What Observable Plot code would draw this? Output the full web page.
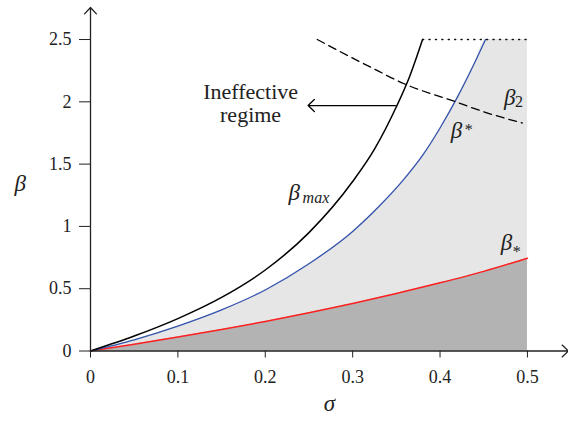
<!DOCTYPE html>
<html><head><meta charset="utf-8">
<script src="https://cdn.jsdelivr.net/npm/d3@7"></script>
<script src="https://cdn.jsdelivr.net/npm/@observablehq/plot@0.6"></script>
<style>
body{margin:0;background:#fff}
svg, svg text{font-family:"Liberation Serif","Times New Roman",Times,serif !important}
</style>
</head><body><div id="chart"></div>
<script>
// ---- data ----
const xTicks = [0, 0.1, 0.2, 0.3, 0.4, 0.5];
const yTicks = [0, 0.5, 1, 1.5, 2, 2.5];
const xAxisEnd = 0.547, yAxisEnd = 2.757;
const sigmaMax = [0, 0.05, 0.1, 0.15, 0.2, 0.25, 0.3, 0.325, 0.35, 0.365, 0.38];
const betaMax  = [0, 0.12, 0.26, 0.43, 0.65, 0.95, 1.36, 1.62, 1.96, 2.2, 2.5];
const sigmaStar = [0, 0.05, 0.1, 0.15, 0.2, 0.25, 0.3, 0.33, 0.36, 0.38, 0.4, 0.42, 0.44, 0.452];
const betaStar  = [0, 0.09, 0.2, 0.33, 0.49, 0.70, 0.96, 1.16, 1.39, 1.57, 1.79, 2.04, 2.32, 2.5];
const sigmaLow = [0, 0.05, 0.1, 0.15, 0.2, 0.25, 0.3, 0.35, 0.4, 0.45, 0.5];
const betaLow  = [0, 0.055, 0.112, 0.172, 0.237, 0.307, 0.382, 0.462, 0.547, 0.639, 0.745];
const sigma2 = [0.2595, 0.2864, 0.32, 0.359, 0.418, 0.45, 0.494];
const beta2  = [2.5, 2.4, 2.28, 2.145, 2.0, 1.92, 1.83];
const sigmaCap = [0.38, 0.5];
const betaCap  = [2.5, 2.5];
const regimeText = "Ineffective\nregime";
const regimePos = {s: 0.1832, b: 1.836};
const regimeArrow = {s1: 0.349, s2: 0.249, b: 1.97};
const labelMax = {s: 0.2267, b: 1.208, sub: "max"};
const labelStarUp = {s: 0.4122, b: 1.713, sup: "*"};
const label2 = {s: 0.4733, b: 1.978, sub: "2"};
const labelStarLow = {s: 0.4695, b: 0.814, sub: "*"};

const toPts = (xs, ys) => xs.map((s, i) => ({s, b: ys[i]}));
const ptsMax = toPts(sigmaMax, betaMax);
const ptsStar = toPts(sigmaStar, betaStar);
const ptsLow = toPts(sigmaLow, betaLow);
const pts2 = toPts(sigma2, beta2);
const ptsCap = toPts(sigmaCap, betaCap);
const ptsUpper = ptsStar.concat([{s: xTicks[xTicks.length - 1], b: yTicks[yTicks.length - 1]}]);

const greek = (lab, subText, subDx, subDy) => [
  Plot.text([lab], {x: "s", y: "b", text: () => "β", textAnchor: "start", lineAnchor: "bottom", fontStyle: "italic", fontSize: 23, fill: "#222"}),
  Plot.text([lab], {x: "s", y: "b", text: () => subText, textAnchor: "start", lineAnchor: "bottom", fontStyle: subText === "max" ? "italic" : "normal", fontSize: 16, dx: subDx, dy: subDy, fill: "#222"})
];

const chart = Plot.plot({
  width: 568, height: 424,
  marginLeft: 90, marginRight: 0, marginTop: 7, marginBottom: 73.5,
  style: {fontFamily: "'Liberation Serif', 'Times New Roman', serif", background: "white", color: "#222"},
  x: {domain: [0, xAxisEnd]},
  y: {domain: [0, yAxisEnd]},
  marks: [
    Plot.areaY(ptsUpper, {x: "s", y: "b", fill: "#e6e6e6", curve: "monotone-x"}),
    Plot.areaY(ptsLow, {x: "s", y: "b", fill: "#b3b3b3", curve: "monotone-x"}),
    Plot.line(ptsCap, {x: "s", y: "b", stroke: "#111", strokeWidth: 1.3, strokeDasharray: "1.2,5.2"}),
    Plot.line(ptsLow, {x: "s", y: "b", stroke: "#ff2020", strokeWidth: 1.5, curve: "monotone-x"}),
    Plot.line(ptsStar, {x: "s", y: "b", stroke: "#3353ad", strokeWidth: 1.3, curve: "monotone-x"}),
    Plot.line(ptsMax, {x: "s", y: "b", stroke: "#000", strokeWidth: 1.5, curve: "monotone-x"}),
    Plot.line(pts2, {x: "s", y: "b", stroke: "#000", strokeWidth: 1.3, strokeDasharray: "8,5", curve: "monotone-x"}),
    Plot.arrow([regimeArrow], {x1: "s1", x2: "s2", y1: "b", y2: "b", stroke: "#000", strokeWidth: 1.3, headAngle: 88, headLength: 10}),
    Plot.text([regimePos], {x: "s", y: "b", text: () => regimeText, lineAnchor: "bottom", textAnchor: "middle", fontSize: 22, lineHeight: 1.05, fill: "#222"}),
    ...greek(labelMax, labelMax.sub, 14, 3),
    ...greek(labelStarUp, labelStarUp.sup, 14, -3),
    ...greek(label2, label2.sub, 11, 2),
    ...greek(labelStarLow, labelStarLow.sub, 12, 7),
    Plot.arrow([{x1: 0, y1: 0, x2: xAxisEnd, y2: 0}], {x1: "x1", y1: "y1", x2: "x2", y2: "y2", stroke: "#222", strokeWidth: 1.3, headAngle: 86, headLength: 10}),
    Plot.arrow([{x1: 0, y1: 0, x2: 0, y2: yAxisEnd}], {x1: "x1", y1: "y1", x2: "x2", y2: "y2", stroke: "#222", strokeWidth: 1.3, headAngle: 86, headLength: 10}),
    Plot.axisX({ticks: xTicks, tickSize: 7, tickPadding: 12, tickFormat: d => String(d), fontSize: 18, label: null}),
    Plot.axisY({ticks: yTicks, tickSize: 11, tickPadding: 8, tickFormat: d => String(d), fontSize: 18, label: null}),
    Plot.text(["σ"], {frameAnchor: "bottom", text: d => d, dy: 60, fontStyle: "italic", fontSize: 23, fill: "#222"}),
    Plot.text(["β"], {frameAnchor: "left", text: d => d, dx: -76, dy: 4, fontStyle: "italic", fontSize: 23, fill: "#222"})
  ]
});
document.getElementById("chart").appendChild(chart);
</script>
</body></html>
